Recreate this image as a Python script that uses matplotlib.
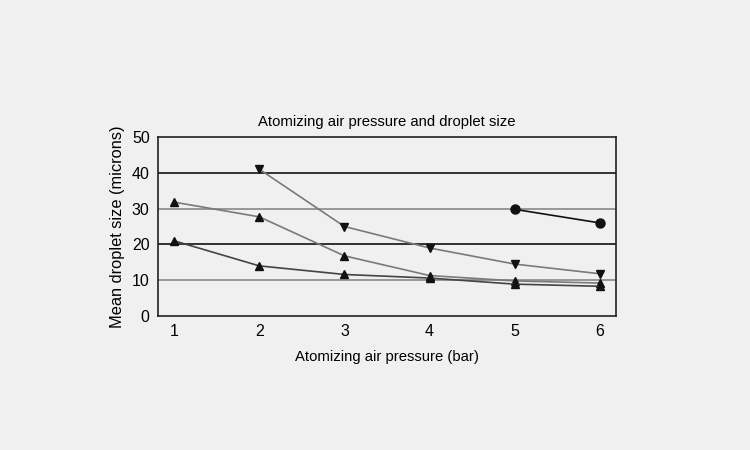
import matplotlib
matplotlib.use("Agg")
import matplotlib.pyplot as plt

plt.rcParams['font.family'] = ['Liberation Sans', 'DejaVu Sans']

pressure = [1, 2, 3, 4, 5, 6]
down_x = [2, 3, 4, 5, 6]
down_y = [41, 25, 19, 14.5, 11.8]
up_hi_y = [31.8, 27.7, 16.8, 11.3, 9.8, 9.2]
up_lo_y = [21, 14, 11.6, 10.6, 8.9, 8.3]
dot_x = [5, 6]
dot_y = [29.8, 26]

bg = '#f0f0f0'
fig = plt.figure(figsize=(7.5, 4.5), dpi=100, facecolor=bg)
ax = fig.add_axes([158/750, 1 - 316/450, 458/750, 179/450])
ax.set_facecolor(bg)

# horizontal reference lines
for y, c in [(40, '#111111'), (30, '#888888'), (20, '#111111'), (10, '#888888')]:
    ax.axhline(y, color=c, lw=1.2, zorder=1)

line_gray = '#7a7a7a'
ax.plot(down_x, down_y, color=line_gray, lw=1.2, marker='v', ms=5.5,
        mfc='#111111', mec='#111111', zorder=3)
ax.plot(pressure, up_hi_y, color=line_gray, lw=1.2, marker='^', ms=5.5,
        mfc='#111111', mec='#111111', zorder=3)
ax.plot(pressure, up_lo_y, color='#444444', lw=1.2, marker='^', ms=5.5,
        mfc='#111111', mec='#111111', zorder=3)
ax.plot(dot_x, dot_y, color='#111111', lw=1.2, marker='o', ms=6.5,
        mfc='#111111', mec='#111111', zorder=3)

ax.set_xlim(0.81, 6.19)
ax.set_ylim(0, 50)
ax.set_xticks(pressure)
ax.set_yticks([0, 10, 20, 30, 40, 50])
ax.tick_params(length=0, labelsize=11.5, pad=6)
for s in ax.spines.values():
    s.set_color('#222222')
    s.set_linewidth(1.2)

ax.set_xlabel('Atomizing air pressure (bar)', fontsize=10.7, labelpad=8)
ax.set_ylabel('Mean droplet size (microns)', fontsize=11.8, labelpad=5)
ax.set_title('Atomizing air pressure and droplet size', fontsize=10.7, pad=8)

fig.savefig('out.png', dpi=100, facecolor=bg)
